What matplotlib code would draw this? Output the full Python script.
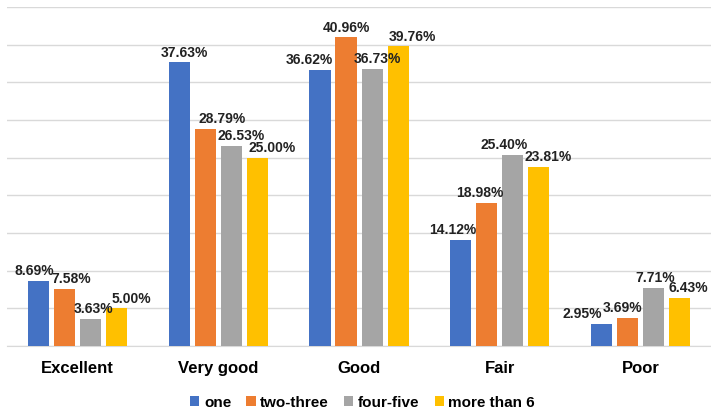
import numpy as np
import matplotlib.pyplot as plt

plt.rcParams["font.family"] = ["Liberation Sans", "DejaVu Sans"]

categories = ["Excellent", "Very good", "Good", "Fair", "Poor"]
series_names = ["one", "two-three", "four-five", "more than 6"]
one = [8.69, 37.63, 36.62, 14.12, 2.95]
two_three = [7.58, 28.79, 40.96, 18.98, 3.69]
four_five = [3.63, 26.53, 36.73, 25.40, 7.71]
more_than_6 = [5.00, 25.00, 39.76, 23.81, 6.43]

colors = ["#4472C4", "#ED7D31", "#A5A5A5", "#FFC000"]
values = [one, two_three, four_five, more_than_6]

# horizontal nudges (in points) for the value labels, per series / category
label_dx = [
    [-3, 4, -8, -6, -14],
    [5, 12, 0, -5, -4],
    [2, 7, 4, -6, 1],
    [11, 11, 10, 7, 6],
]

fig = plt.figure(figsize=(7.11, 4.09), dpi=100)
ax = fig.add_axes([0.01, 0.154, 0.99, 0.829])

x = np.arange(len(categories))
width = 0.15
step = 0.185
for i, (name, vals, c) in enumerate(zip(series_names, values, colors)):
    pos = x + (i - 1.5) * step
    bars = ax.bar(pos, vals, width=width, color=c, label=name, zorder=3)
    for j, (b, v) in enumerate(zip(bars, vals)):
        ax.annotate(f"{v:.2f}%", (b.get_x() + b.get_width() / 2, v),
                    xytext=(label_dx[i][j], 2), textcoords="offset points",
                    ha="center", va="bottom", fontsize=10, fontweight="bold",
                    color="#222222", zorder=4)

ax.set_xlim(-0.5, len(categories) - 0.5)
ax.set_ylim(0, 45)
ax.set_yticks(np.arange(0, 46, 5))
ax.yaxis.grid(True, color="#D9D9D9", linewidth=1)
ax.tick_params(axis="y", left=False, labelleft=False)
ax.tick_params(axis="x", bottom=False, pad=7)
ax.set_xticks(x)
ax.set_xticklabels(categories, fontweight="bold", fontsize=12)
for s in ["top", "right", "left"]:
    ax.spines[s].set_visible(False)
ax.spines["bottom"].set_color("#D9D9D9")

fig.legend(loc="lower center", bbox_to_anchor=(0.51, -0.035), ncol=4,
           frameon=False, handlelength=0.6, handleheight=0.6,
           handletextpad=0.3, columnspacing=1.0,
           prop={"weight": "bold", "size": 11})

fig.savefig("out.png", dpi=100, facecolor="white")
